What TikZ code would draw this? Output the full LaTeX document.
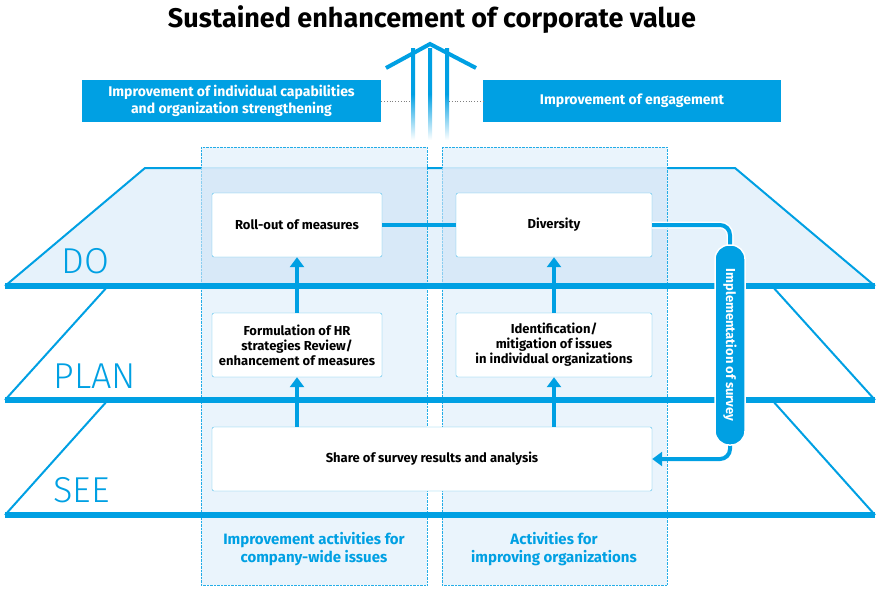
\documentclass[tikz,border=0pt]{standalone}
\usepackage{fontspec}
\setmainfont{Fira Sans}
\newfontfamily\lightFont{Fira Sans Light}
\usepackage{tikz}
\usetikzlibrary{positioning,arrows.meta}
\definecolor{mainBlue}{RGB}{0,160,227}
\definecolor{paleBlue}{RGB}{230,242,251}
\definecolor{midBlue}{RGB}{208,228,247}

\begin{document}
\begin{tikzpicture}[x=1pt,y=-1pt,%%
  boxStyle/.style={draw=mainBlue!70,fill=white,rounded corners=2pt,align=center,font=\fontsize{13}{15}\selectfont\bfseries},%%
  headStyle/.style={fill=mainBlue,text=white,align=center,font=\fontsize{14}{17}\selectfont\bfseries},%%
  columnStyle/.style={draw=mainBlue,densely dotted,fill=paleBlue,opacity=0.85},%%
  arrowStyle/.style={-{Triangle[length=10pt,width=14pt]},line width=4pt,mainBlue},%%
  floorStyle/.style={mainBlue,line width=6pt},%%
  edgeStyle/.style={mainBlue,line width=2pt},%%
  levelStyle/.style={mainBlue,font=\fontsize{36}{36}\selectfont\lightFont,anchor=west},%%
  footStyle/.style={mainBlue,align=center,font=\fontsize{15}{18}\selectfont\bfseries}%%
]
\useasboundingbox (0,0) rectangle (880,590);
%%
\pgfmathsetmacro{\yDo}{286}
\pgfmathsetmacro{\yPlan}{400}
\pgfmathsetmacro{\ySee}{515}
%%
%% Floors.
\fill[paleBlue] (145,168) -- (735,168) -- (875,\yDo) -- (5,\yDo) -- cycle;
\draw[edgeStyle] (5,\yDo) -- (145,168) -- (735,168) -- (875,\yDo);
\draw[edgeStyle] (108,\yDo) -- (5,\yPlan);
\draw[edgeStyle] (772,\yDo) -- (875,\yPlan);
\draw[edgeStyle] (108,\yPlan) -- (5,\ySee);
\draw[edgeStyle] (772,\yPlan) -- (875,\ySee);
%% Columns.
\draw[columnStyle] (201,147) rectangle (427,585);
\draw[columnStyle] (442,147) rectangle (667,585);
\fill[midBlue,opacity=0.6] (201,168) rectangle (427,\yDo);
\fill[midBlue,opacity=0.6] (442,168) rectangle (667,\yDo);
\draw[floorStyle] (5,\yDo) -- (875,\yDo);
\draw[floorStyle] (5,\yPlan) -- (875,\yPlan);
\draw[floorStyle] (5,\ySee) -- (875,\ySee);
%% Level labels.
\node[levelStyle] (labelDo) at (58,261) {DO};
\node[levelStyle] (labelPlan) at (50,376) {PLAN};
\node[levelStyle] (labelSee) at (50,490) {SEE};
%% Title and goals.
\node[font=\fontsize{27}{30}\selectfont\bfseries] (title) at (432,20) {Sustained enhancement of corporate value};
\node[headStyle,minimum width=299pt,minimum height=42pt] (goalLeft) at (231.5,101) {Improvement of individual capabilities\\and organization strengthening};
\node[headStyle,minimum width=298pt,minimum height=42pt] (goalRight) at (632,101) {Improvement of engagement};
\draw[gray,dotted,thick] (goalLeft.east) -- (411,101);
\draw[gray,dotted,thick] (449,101) -- (goalRight.west);
%% Rising arrow.
\foreach \xx in {413,430,447}
  \shade[top color=mainBlue,bottom color=white,middle color=mainBlue] (\xx-2,48) rectangle (\xx+2,140);
\draw[mainBlue,line width=4pt] (386,68) -- (430,44) -- (476,68);
%% Boxes.
\node[boxStyle,minimum width=170pt,minimum height=64pt] (rollOut) at (297,225) {Roll-out of measures};
\node[boxStyle,minimum width=196pt,minimum height=64pt] (diversity) at (554,225) {Diversity};
\node[boxStyle,minimum width=170pt,minimum height=64pt] (formulation) at (297,345) {Formulation of HR\\strategies Review/\\enhancement of measures};
\node[boxStyle,minimum width=196pt,minimum height=64pt] (identification) at (554,345) {Identification/\\mitigation of issues\\in individual organizations};
\node[boxStyle,minimum width=440pt,minimum height=64pt] (share) at (432,459) {Share of survey results and analysis};
%% Flow.
\draw[mainBlue,line width=4pt] (rollOut) -- (diversity);
\draw[arrowStyle] (share.north -| formulation) -- (formulation.south);
\draw[arrowStyle] (share.north -| identification) -- (identification.south);
\draw[arrowStyle] (formulation) -- (rollOut);
\draw[arrowStyle] (identification) -- (diversity);
\draw[white,line width=7pt,rounded corners=10pt] (diversity.east) -- (730,225) -- (730,260);
\draw[mainBlue,line width=4pt,rounded corners=10pt] (diversity.east) -- (730,225) -- (730,260);
\draw[arrowStyle,rounded corners=10pt] (730,420) -- (730,459) -- (share.east);
\node[fill=mainBlue,draw=white,line width=1.5pt,rounded corners=14pt,minimum width=200pt,minimum height=30pt,
  rotate=-90,text=white,font=\fontsize{13}{15}\selectfont\bfseries] (survey) at (730,345) {Implementation of survey};
%% Column captions.
\node[footStyle] (footLeft) at (314,549) {Improvement activities for\\company-wide issues};
\node[footStyle] (footRight) at (554,549) {Activities for\\improving organizations};
\end{tikzpicture}
\end{document}
